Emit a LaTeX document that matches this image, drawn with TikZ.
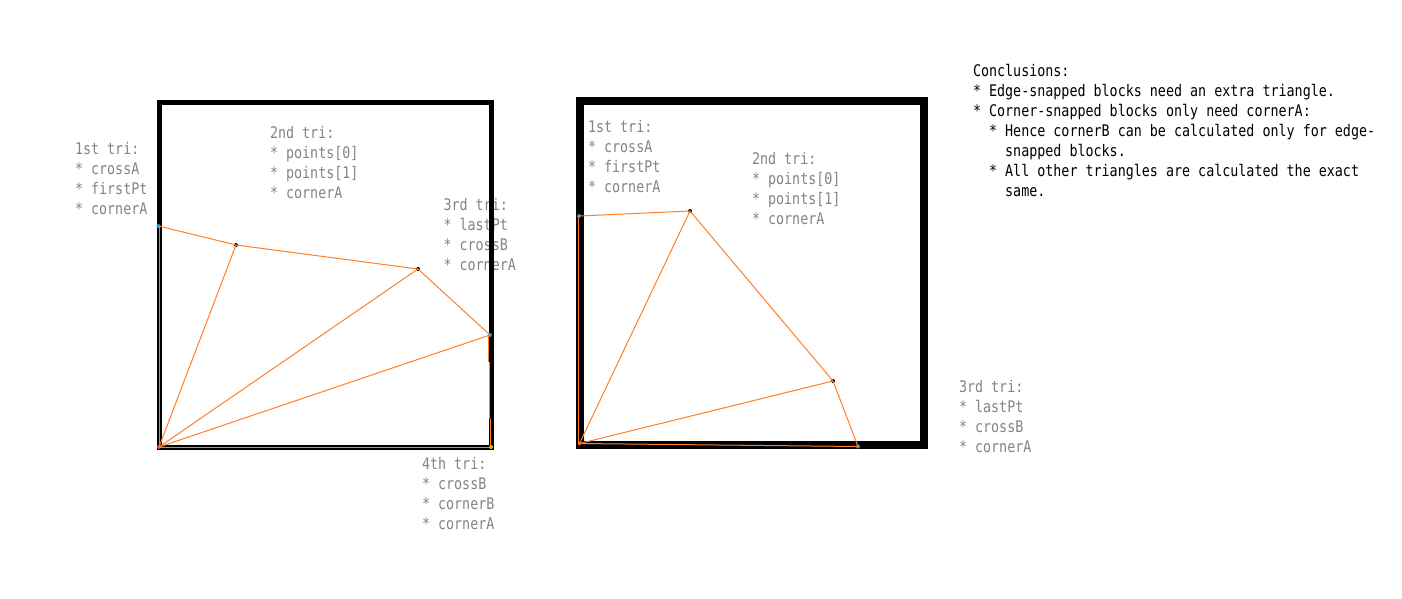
\documentclass[tikz,border=0pt]{standalone}
\usepackage{fontspec}
\setmonofont[FakeStretch=0.835]{DejaVu Sans Mono}
\definecolor{edgeorange}{HTML}{FF7F27}
\definecolor{dotblue}{HTML}{00A2E8}
\definecolor{dotred}{HTML}{ED3C1C}
\definecolor{dotyellow}{HTML}{B5D60F}
\definecolor{notegray}{HTML}{7F858C}
\newcommand{\firstline}{\rule{0pt}{14pt}}
\tikzset{
  note/.style={anchor=north west,inner sep=0pt,outer sep=0pt,align=left,text=notegray,
    font=\ttfamily\fontsize{16}{20}\selectfont},
  conclusion/.style={note,text=black},
  blockA/.style={rectangle,draw=black,line width=4.7pt,fill=none,inner sep=0pt,outer sep=0pt,anchor=center},
  blockB/.style={rectangle,draw=black,line width=8pt,fill=none,inner sep=0pt,outer sep=0pt,anchor=center},
  edge/.style={draw=edgeorange,line width=1pt},
  dot/.style={circle,inner sep=0pt,minimum size=4pt,outer sep=0pt},
  ptblack/.style={dot,fill=black},
  ptblue/.style={dot,fill=dotblue},
  ptred/.style={dot,fill=dotred},
  ptyellow/.style={dot,fill=dotyellow},
}
\begin{document}
\begin{tikzpicture}[x=1pt,y=-1pt]
\useasboundingbox[fill=white] (0,0) rectangle (1402,598);
% this note lies under the block's edge
\node[note] (n3) at (443.5,196) {\firstline 3rd tri:\\* lastPt\\* crossB\\* cornerA};
% blocks
\node[blockA,minimum width=332pt,minimum height=345pt] (blockL) at (325.5,275) {};
\node[blockB,minimum width=344pt,minimum height=344pt] (blockR) at (752,273) {};
% left points
\coordinate (Lvt) at (159.5,226);
\coordinate (Lvb) at (159.5,447.5);
\coordinate (Lhr) at (490.5,447.5);
\coordinate (LsTop) at (488.5,335);
\coordinate (Lsa) at (488.5,362);
\coordinate (Lsb) at (489.3,362);
\coordinate (Lsc) at (489.3,419);
\coordinate (Lsd) at (490.5,419);
\node[ptblue] (LcrossA) at (158.5,226) {};
\node[ptblack] (Lp0) at (236,245) {};
\node[ptblack] (Lp1) at (418,269) {};
\node[ptblue] (LcrossB) at (490,335) {};
\node[ptred] (LcornerA) at (159,447) {};
\node[ptyellow] (LcornerB) at (491,447) {};
% right points
\coordinate (Rvt) at (578.5,216);
\coordinate (Rvb) at (578.5,444);
\node[ptblue] (RcrossA) at (579,216) {};
\node[ptblack] (Rp0) at (690,211) {};
\node[ptblack] (Rp1) at (833,381) {};
\node[ptblue] (RcrossB) at (858,446.5) {};
\node[ptred] (RcornerA) at (579.5,443.5) {};
% left edges
\draw[edge] (LcrossA.center) -- (Lp0.center) -- (Lp1.center) -- (LcrossB.center);
\draw[edge] (LcornerA.center) -- (Lp0.center);
\draw[edge] (LcornerA.center) -- (Lp1.center);
\draw[edge] (LcornerA.center) -- (LcrossB.center);
\draw[edge] (Lvb) -- (Lvt);
\draw[edge] (Lvb) -- (Lhr);
\draw[edge] (LsTop) -- (Lsa);
\draw[edge,line width=.5pt] (Lsb) -- (Lsc);
\draw[edge] (Lsd) -- (Lhr);
% right edges
\draw[edge] (RcrossA.center) -- (Rp0.center) -- (Rp1.center) -- (RcrossB.center);
\draw[edge] (RcornerA.center) -- (Rp0.center);
\draw[edge] (RcornerA.center) -- (Rp1.center);
\draw[edge] (Rvb) -- (Rvt);
\draw[edge] (RcornerA.center) -- (RcrossB.center);
% notes
\node[note] (n1) at (75,140) {\firstline 1st tri:\\* crossA\\* firstPt\\* cornerA};
\node[note] (n2) at (270,124) {\firstline 2nd tri:\\* points[0]\\* points[1]\\* cornerA};
\node[note] (n4) at (422,455) {\firstline 4th tri:\\* crossB\\* cornerB\\* cornerA};
\node[note] (m1) at (588,118) {\firstline 1st tri:\\* crossA\\* firstPt\\* cornerA};
\node[note] (m2) at (752,150) {\firstline 2nd tri:\\* points[0]\\* points[1]\\* cornerA};
\node[note] (m3) at (959,378) {\firstline 3rd tri:\\* lastPt\\* crossB\\* cornerA};
\node[conclusion] (c) at (973,62) {\firstline Conclusions:\\
* Edge-snapped blocks need an extra triangle.\\
* Corner-snapped blocks only need cornerA:\\
\ \ * Hence cornerB can be calculated only for edge-\\
\ \ \ \ snapped blocks.\\
\ \ * All other triangles are calculated the exact\\
\ \ \ \ same.};
\end{tikzpicture}
\end{document}
